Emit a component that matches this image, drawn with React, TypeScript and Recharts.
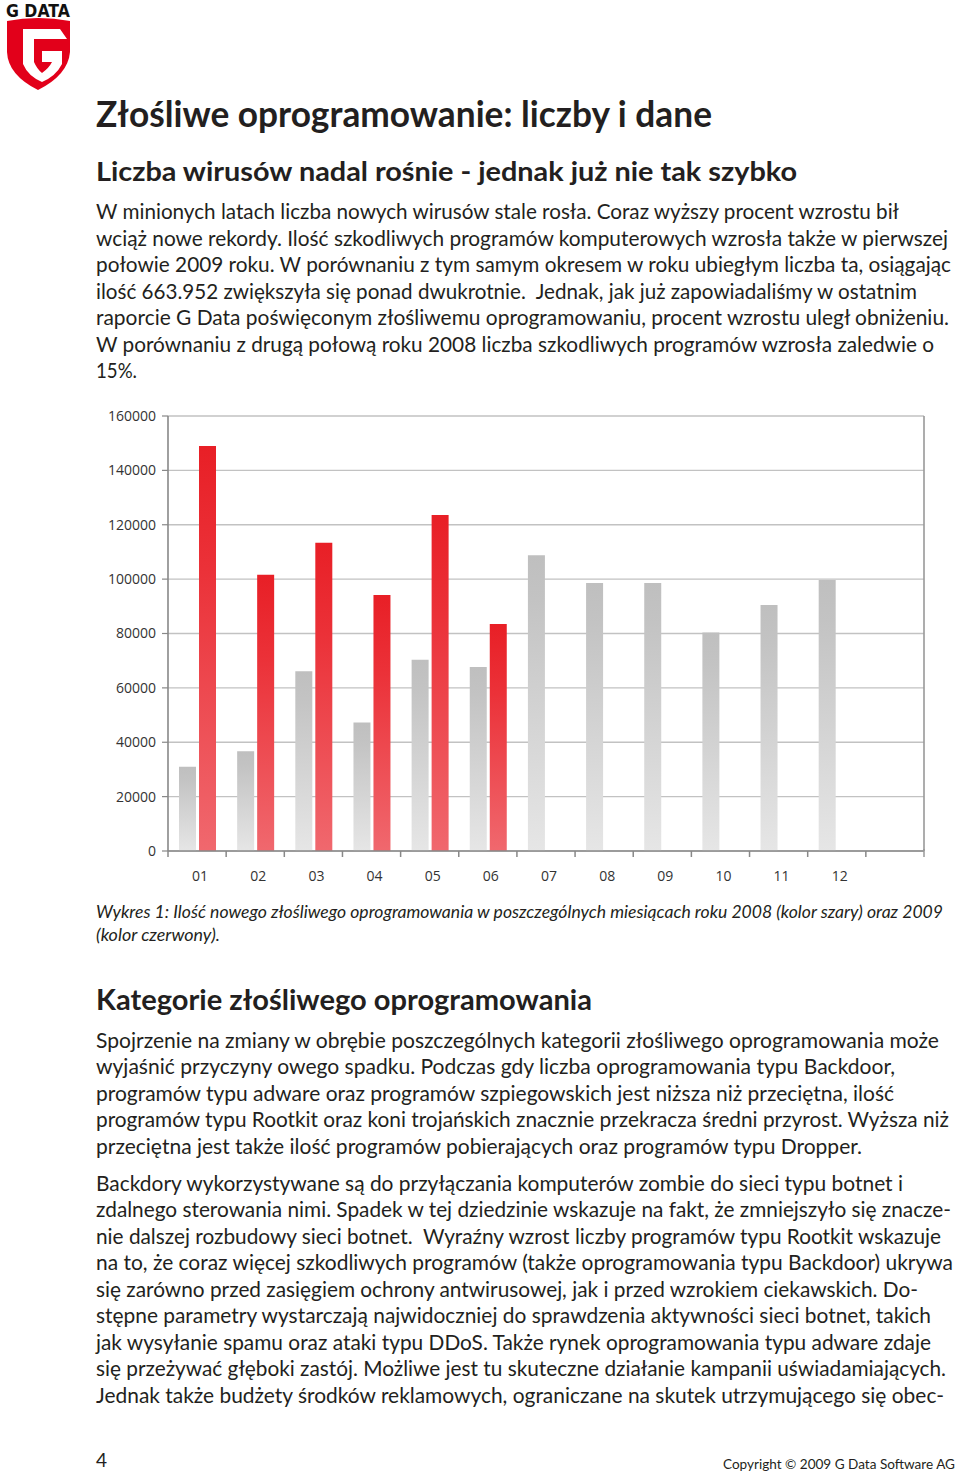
import React from 'react';
import { BarChart, Bar, XAxis, YAxis, CartesianGrid } from 'recharts';

// ---- chart data ----
const months = ['01', '02', '03', '04', '05', '06', '07', '08', '09', '10', '11', '12', ''];
const malware2008 = [31000, 36700, 66100, 47300, 70300, 67700, 108800, 98600, 98600, 80400, 90500, 99700, null];
const malware2009 = [149000, 101600, 113400, 94200, 123600, 83500, null, null, null, null, null, null, null];
const yTicks = [0, 20000, 40000, 60000, 80000, 100000, 120000, 140000, 160000];

const data = months.map((m, i) => ({ month: m, y2008: malware2008[i], y2009: malware2009[i] }));

// ---- page text ----
const title = 'Złośliwe oprogramowanie: liczby i dane';
const subtitle = 'Liczba wirusów nadal rośnie - jednak już nie tak szybko';
const para1 = [
  'W minionych latach liczba nowych wirusów stale rosła. Coraz wyższy procent wzrostu bił',
  'wciąż nowe rekordy. Ilość szkodliwych programów komputerowych wzrosła także w pierwszej',
  'połowie 2009 roku. W porównaniu z tym samym okresem w roku ubiegłym liczba ta, osiągając',
  'ilość 663.952 zwiększyła się ponad dwukrotnie.  Jednak, jak już zapowiadaliśmy w ostatnim',
  'raporcie G Data poświęconym złośliwemu oprogramowaniu, procent wzrostu uległ obniżeniu.',
  'W porównaniu z drugą połową roku 2008 liczba szkodliwych programów wzrosła zaledwie o',
  '15%.',
];
const caption = [
  'Wykres 1: Ilość nowego złośliwego oprogramowania w poszczególnych miesiącach roku 2008 (kolor szary) oraz 2009',
  '(kolor czerwony).',
];
const heading2 = 'Kategorie złośliwego oprogramowania';
const para2 = [
  'Spojrzenie na zmiany w obrębie poszczególnych kategorii złośliwego oprogramowania może',
  'wyjaśnić przyczyny owego spadku. Podczas gdy liczba oprogramowania typu Backdoor,',
  'programów typu adware oraz programów szpiegowskich jest niższa niż przeciętna, ilość',
  'programów typu Rootkit oraz koni trojańskich znacznie przekracza średni przyrost. Wyższa niż',
  'przeciętna jest także ilość programów pobierających oraz programów typu Dropper.',
];
const para3 = [
  'Backdory wykorzystywane są do przyłączania komputerów zombie do sieci typu botnet i',
  'zdalnego sterowania nimi. Spadek w tej dziedzinie wskazuje na fakt, że zmniejszyło się znacze-',
  'nie dalszej rozbudowy sieci botnet.  Wyraźny wzrost liczby programów typu Rootkit wskazuje',
  'na to, że coraz więcej szkodliwych programów (także oprogramowania typu Backdoor) ukrywa',
  'się zarówno przed zasięgiem ochrony antwirusowej, jak i przed wzrokiem ciekawskich. Do-',
  'stępne parametry wystarczają najwidoczniej do sprawdzenia aktywności sieci botnet, takich',
  'jak wysyłanie spamu oraz ataki typu DDoS. Także rynek oprogramowania typu adware zdaje',
  'się przeżywać głęboki zastój. Możliwe jest tu skuteczne działanie kampanii uświadamiających.',
  'Jednak także budżety środków reklamowych, ograniczane na skutek utrzymującego się obec-',
];

// ---- layout (positions only) ----
const LEFT = 96;
const para1End = [899, 948, 951, 917, 949, 934, 137];
const para1Base = [219, 246, 272, 299, 325, 352, 378];
const captionEnd = [943, 220];
const captionBase = [918, 941];
const para2End = [939, 895, 894, 949, 862];
const para2Base = [1048, 1074, 1101, 1127, 1154];
const para3End = [903, 951, 941, 953, 918, 931, 931, 946, 944];
const para3Base = [1191, 1217, 1244, 1270, 1297, 1323, 1350, 1376, 1403];

const CHART_W = 960;
const CHART_H = 500;
const Y_AXIS_W = 168;
const RIGHT_AXIS_W = 1;
const RIGHT_M = 35;
const BAND = (CHART_W - Y_AXIS_W - RIGHT_M - RIGHT_AXIS_W) / months.length;

const FONT = 'Lato, "Open Sans", sans-serif';
const TEXT = '#231f20';

function Line({ text, end, y, size, weight = 400, italic = false }: any) {
  return (
    <text
      x={LEFT}
      y={y}
      textLength={end - LEFT}
      lengthAdjust="spacingAndGlyphs"
      fontSize={size}
      fontWeight={weight}
      fontStyle={italic ? 'italic' : 'normal'}
      fontFamily={FONT}
      fill={TEXT}
      style={{ whiteSpace: 'pre' }}
    >
      {text}
    </text>
  );
}

function MonthTick(props: any) {
  const { x, y, payload, index } = props;
  const half = BAND / 2;
  return (
    <g>
      <line x1={x - half} x2={x - half} y1={y} y2={y + 6} stroke="#888" strokeWidth={1.5} />
      {index === months.length - 1 && (
        <line x1={x + half} x2={x + half} y1={y - 2} y2={y + 6} stroke="#999" strokeWidth={1.5} />
      )}
      <text x={x + 3} y={y + 30} textAnchor="middle" fontSize={14} fontFamily='"Open Sans", sans-serif' fill="#333">
        {payload.value}
      </text>
    </g>
  );
}

function Logo() {
  return (
    <svg width={80} height={95} style={{ position: 'absolute', left: 0, top: 0 }}>
      <text x={6} y={17} fontSize={18} fontWeight={900} fontFamily='"DejaVu Sans", sans-serif' fill="#111" textLength={64} lengthAdjust="spacingAndGlyphs">
        G DATA
      </text>
      <path d="M7,21 Q38,15 70,21 L70,52 Q68,75 38,90 Q8,75 7,52 Z" fill="#e2001a" />
      <path
        d="M23,29 L60,29 L67,39 L34,39 L34,62 Q37,69 42,73 Q49,68 52,62 L42,62 L42,51 L62,51 L62,64 Q56,76 42,82 Q28,76 23,64 Z"
        fill="#ffffff"
      />
    </svg>
  );
}

export default function App() {
  return (
    <div style={{ position: 'absolute', left: 0, top: 0, width: 960, height: 1473, background: '#fff', overflow: 'hidden' }}>
      <Logo />
      <svg width={960} height={1473} style={{ position: 'absolute', left: 0, top: 0, pointerEvents: 'none' }}>
        <Line text={title} end={712} y={127} size={36} weight={700} />
        <Line text={subtitle} end={797} y={181} size={27} weight={700} />
        {para1.map((t, i) => (
          <Line key={'p1' + i} text={t} end={para1End[i]} y={para1Base[i]} size={21} />
        ))}
        {caption.map((t, i) => (
          <Line key={'c' + i} text={t} end={captionEnd[i]} y={captionBase[i]} size={17} italic />
        ))}
        <Line text={heading2} end={592} y={1010} size={28} weight={700} />
        {para2.map((t, i) => (
          <Line key={'p2' + i} text={t} end={para2End[i]} y={para2Base[i]} size={21} />
        ))}
        {para3.map((t, i) => (
          <Line key={'p3' + i} text={t} end={para3End[i]} y={para3Base[i]} size={21} />
        ))}
        <text x={96} y={1467} fontSize={19} fontFamily={FONT} fill={TEXT}>4</text>
        <text x={723} y={1469} fontSize={13} fontFamily={FONT} fill={TEXT} textLength={232} lengthAdjust="spacingAndGlyphs">
          Copyright © 2009 G Data Software AG
        </text>
      </svg>
      <div style={{ position: 'absolute', left: 0, top: 400 }}>
        <BarChart
          width={CHART_W}
          height={CHART_H}
          data={data}
          margin={{ top: 16, right: RIGHT_M, bottom: 9, left: 0 }}
          barGap={3}
        >
          <defs>
            <linearGradient id="gGray" x1="0" y1="0" x2="0" y2="1">
              <stop offset="0%" stopColor="#bfbfbf" />
              <stop offset="15%" stopColor="#c3c3c3" />
              <stop offset="100%" stopColor="#e6e6e6" />
            </linearGradient>
            <linearGradient id="gRed" x1="0" y1="0" x2="0" y2="1">
              <stop offset="0%" stopColor="#e81f26" />
              <stop offset="30%" stopColor="#eb3138" />
              <stop offset="100%" stopColor="#f0686e" />
            </linearGradient>
          </defs>
          <CartesianGrid yAxisId="l" vertical={false} stroke="#c2c2c2" strokeWidth={1.3} />
          <XAxis
            dataKey="month"
            interval={0}
            height={40}
            tickSize={0}
            tickMargin={0}
            tickLine={false}
            axisLine={{ stroke: '#888', strokeWidth: 1.6 }}
            tick={<MonthTick />}
          />
          <YAxis
            yAxisId="l"
            width={Y_AXIS_W}
            domain={[0, 160000]}
            ticks={yTicks}
            interval={0}
            tickSize={6}
            tickMargin={6}
            axisLine={{ stroke: '#888', strokeWidth: 1.6 }}
            tickLine={{ stroke: '#888', strokeWidth: 1.2 }}
            tick={{ fill: '#333', fontSize: 14, fontFamily: '"Open Sans", sans-serif' }}
          />
          <YAxis
            yAxisId="r"
            orientation="right"
            width={RIGHT_AXIS_W}
            domain={[0, 160000]}
            ticks={yTicks}
            tick={false}
            tickLine={false}
            axisLine={{ stroke: '#999', strokeWidth: 1.6 }}
          />
          <Bar yAxisId="l" dataKey="y2008" fill="url(#gGray)" barSize={17} isAnimationActive={false} />
          <Bar yAxisId="l" dataKey="y2009" fill="url(#gRed)" barSize={17} isAnimationActive={false} />
        </BarChart>
      </div>
    </div>
  );
}
